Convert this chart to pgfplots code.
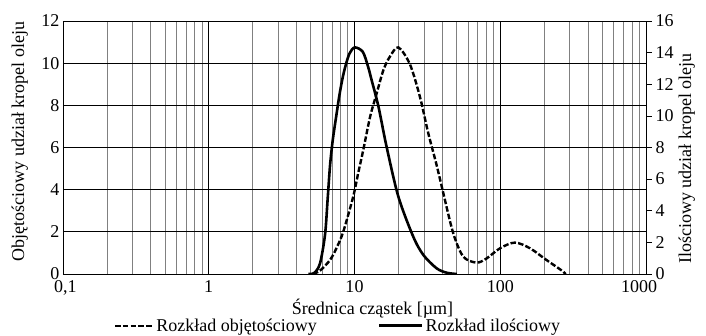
\documentclass[border=0pt]{standalone}
\usepackage{fontspec}
\setmainfont{Liberation Serif}
\usepackage{pgfplots}
\pgfplotsset{compat=1.18}
\pgfplotsset{
  legdash/.style={legend image code/.code={\draw[##1] (0pt,0pt) -- (38pt,0pt);}},
  legsolid/.style={legend image code/.code={\draw[##1] (0pt,0pt) -- (32pt,0pt); \path (0pt,0pt) -- (43pt,0pt);}},
}
\begin{document}
\begin{tikzpicture}[font=\fontsize{18}{21}\selectfont]
\useasboundingbox (-63pt,-62pt) rectangle (643pt,274pt);
\begin{axis}[at={(0pt,0pt)}, anchor=south west, scale only axis, width=583pt, height=253pt,
  xmode=log, xmin=0.1, xmax=1000, ymin=0, ymax=12,
  xtick={0.1,1,10,100,1000}, xticklabels={{\hspace*{5pt}0,1},1,10,100,{1000\hspace*{14pt}}},
  ytick={0,2,...,12},
  /pgf/number format/assume math mode=true,
  major tick length=0pt, minor tick length=0pt,
  xticklabel style={yshift=-3pt},
  xmajorgrids=true, xminorgrids=true, ymajorgrids=true,
  major grid style={black, line width=0.7pt},
  minor grid style={gray, line width=0.7pt},
  axis line style={black, line width=0.8pt},
  xlabel={Średnica cząstek [µm]},
  ylabel={Objętościowy udział kropel oleju},
  ylabel style={at={(axis description cs:-0.074,0.524)}, anchor=center},
  xlabel style={at={(axis description cs:0.531,-0.138)}, anchor=center},
  legend style={at={(axis description cs:0.082,-0.205)}, anchor=west, draw=none, fill=none,
    legend columns=2, /tikz/every even column/.append style={column sep=59pt}},
  legend cell align=left,
]
\addplot[black, line width=2.4pt, dash pattern=on 5.5pt off 2.2pt, smooth, tension=0.5, legdash] coordinates {
(5.19,0) (5.8,0.16) (6.79,0.66) (7.55,1.25) (8.37,2.0) (9.8,3.67) (10.6,4.78) (11.5,5.9)
(12.8,7.46) (14.2,8.57) (15.8,9.68) (17.5,10.31) (20,10.75) (24,9.95) (28.1,8.41)
(32.1,6.67) (36.5,5.2) (40.7,3.83) (47.6,1.93) (55.8,0.82) (68.9,0.54) (80.7,0.74)
(99.6,1.22) (126,1.49) (160,1.22) (208,0.66) (271,0.11) (278,0)};
\addlegendentry{Rozkład objętościowy}
\addlegendimage{black, line width=2.8pt, legsolid}
\addlegendentry{Rozkład ilościowy}
\end{axis}
\begin{axis}[at={(0pt,0pt)}, anchor=south west, scale only axis, width=583pt, height=253pt,
  xmode=log, xmin=0.1, xmax=1000, ymin=0, ymax=16,
  axis x line=none, axis y line*=right,
  ytick={0,2,...,16},
  /pgf/number format/assume math mode=true,
  tick align=outside, major tick length=6pt,
  tick style={black, line width=0.7pt},
  axis line style={black, line width=0.8pt},
  ylabel={Ilościowy udział kropel oleju},
  ylabel style={at={(axis description cs:1.070,0.457)}, anchor=center},
]
\addplot[black, line width=2.6pt, smooth, tension=0.5] coordinates {
(4.82,0) (5.3,0.07) (5.8,0.67) (6.28,2.5) (6.55,4.8) (6.8,6.9) (7.1,8.5) (7.5,10.0)
(7.91,11.4) (8.33,12.5) (8.79,13.35) (9.25,13.95) (10.02,14.33) (11.4,14.05)
(12.4,13.1) (13.1,12.27) (14.6,10.59) (16.6,8.05) (20,4.89) (25.3,2.36) (29.7,1.2)
(36.6,0.36) (42.9,0.08) (50.3,0)};
\end{axis}
\end{tikzpicture}
\end{document}
